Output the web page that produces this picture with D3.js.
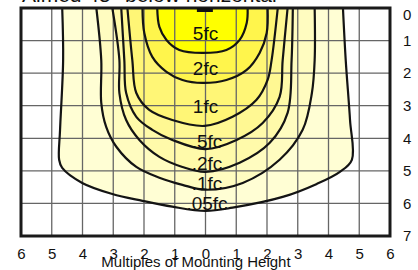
<!DOCTYPE html>
<html>
<head>
<meta charset="utf-8">
<script src="https://cdn.jsdelivr.net/npm/d3@7"></script>
<style>
  body { margin: 0; background: #fff; }
  svg { display: block; }
  text { font-family: "Liberation Sans", Arial, Helvetica, sans-serif; fill: #111; }
</style>
</head>
<body>
<div class="graph"></div>
<script>
// iso-footcandle contours, outermost first
// points are [multiples across, multiples down]
var levels = [".05fc", ".1fc", ".2fc", ".5fc", "1fc", "2fc", "5fc"];

var c05 = [[-4.66,0],[-4.63,1.6],[-4.73,3.74],[-4.76,4.66],[-4.66,4.91],[-4.01,5.37],[-3.03,5.71],
  [-2.05,5.92],[-1.08,6.1],[0,6.23],[0.88,6.13],[2.51,5.8],[3.62,5.4],[4.37,5.03],[4.76,4.66],
  [4.7,3.44],[4.56,1.6],[4.47,0]];
var c1 = [[-3.55,0],[-3.39,1.6],[-3.39,2.91],[-3.23,3.65],[-2.9,4.26],[-2.25,4.88],[-1.5,5.21],
  [-0.75,5.43],[0,5.58],[1.21,5.37],[2.41,4.66],[3.16,3.74],[3.46,2.61],[3.55,1.6],[3.55,0]];
var c2 = [[-3.03,0],[-2.8,1.6],[-2.8,2.61],[-2.58,3.44],[-2.15,4.05],[-1.5,4.57],[-0.75,4.88],
  [0,5.03],[1.11,4.75],[2.09,4.14],[2.67,3.22],[2.8,1.6],[2.84,0]];
var c5 = [[-2.74,0],[-2.64,1.6],[-2.58,2.61],[-2.25,3.34],[-1.73,3.74],[-1.08,4.05],[0,4.33],
  [1.01,4.05],[1.86,3.53],[2.41,2.73],[2.51,1.6],[2.67,0]];
var c10 = [[-2.54,0],[-2.38,1.6],[-2.25,2.61],[-1.83,3.13],[-1.08,3.44],[-0.03,3.62],[0.88,3.34],
  [1.66,2.82],[2.02,2.21],[2.15,1.6],[2.35,0]];
var c20 = [[-2.05,0],[-1.99,0.77],[-1.73,1.5],[-1.27,1.96],[-0.75,2.21],[-0.1,2.3],[0.68,2.21],
  [1.34,1.9],[1.76,1.38],[1.99,0.77],[2.02,0]];
var c50 = [[-1.57,0],[-1.5,0.58],[-1.27,0.98],[-0.85,1.29],[-0.1,1.38],[0.68,1.29],[1.11,0.98],
  [1.34,0.46],[1.37,0]];
var contours = [c05, c1, c2, c5, c10, c20, c50];

// where each label sits: [across, down]
var labelAt = [[0.05,6.2],[0.05,5.58],[0.05,4.97],[0.05,4.29],[0,3.22],[0,2.06],[0,0.98]];

var xTicks = [-6,-5,-4,-3,-2,-1,0,1,2,3,4,5,6];
var yTicks = [0,1,2,3,4,5,6,7];

var fills = ["#fffed4", "#fffcc0", "#fffaaa", "#fff893", "#fff676", "#fff54c", "#ffff00"];

var W = 418, H = 270;
var margin = {top: 8, right: 28, bottom: 34, left: 21};

var svg = d3.select(".graph").append("svg")
  .attr("width", W).attr("height", H);

var x = d3.scaleLinear().domain([-6, 6]).range([margin.left, W - margin.right]);
var y = d3.scaleLinear().domain([0, 7]).range([margin.top, H - margin.bottom]);

var line = d3.line()
  .x(function(d) { return x(d[0]); })
  .y(function(d) { return y(d[1]); })
  .curve(d3.curveCatmullRom.alpha(0.5));

// filled bands
svg.append("g").selectAll("path")
  .data(contours)
  .enter().append("path")
  .attr("d", function(d) { return line(d) + "Z"; })
  .attr("fill", function(d, i) { return fills[i]; })
  .attr("stroke", "none");

// grid
var grid = svg.append("g").attr("stroke", "#666").attr("stroke-width", 1.3);
grid.selectAll(".gx").data(xTicks).enter().append("line")
  .attr("x1", function(d) { return x(d); }).attr("x2", function(d) { return x(d); })
  .attr("y1", y(0)).attr("y2", y(7));
grid.selectAll(".gy").data(yTicks).enter().append("line")
  .attr("y1", function(d) { return y(d); }).attr("y2", function(d) { return y(d); })
  .attr("x1", x(-6)).attr("x2", x(6));

// contour lines
svg.append("g").selectAll("path")
  .data(contours)
  .enter().append("path")
  .attr("d", function(d) { return line(d); })
  .attr("fill", "none")
  .attr("stroke", "#141414")
  .attr("stroke-width", 2.2);

// frame
svg.append("rect")
  .attr("x", x(-6)).attr("y", y(0))
  .attr("width", x(6) - x(-6)).attr("height", y(7) - y(0))
  .attr("fill", "none").attr("stroke", "#1a1a1a").attr("stroke-width", 3);

// fixture
svg.append("rect")
  .attr("x", x(-0.28)).attr("y", y(0))
  .attr("width", x(0.24) - x(-0.28)).attr("height", 4)
  .attr("fill", "#111");

// contour labels
svg.append("g").selectAll("text")
  .data(levels)
  .enter().append("text")
  .attr("x", function(d, i) { return x(labelAt[i][0]); })
  .attr("y", function(d, i) { return y(labelAt[i][1]); })
  .attr("text-anchor", "middle")
  .attr("font-size", 19)
  .text(function(d) { return d; });

// bottom axis
var xAxis = d3.axisBottom(x).tickValues(xTicks).tickSize(0)
  .tickFormat(function(d) { return Math.abs(d); });
var gx = svg.append("g")
  .attr("transform", "translate(0," + (y(7) + 9) + ")")
  .call(xAxis);
gx.select(".domain").remove();
gx.selectAll("text").attr("font-size", 15).attr("fill", "#111");

// right axis
var yAxis = d3.axisRight(y).tickValues(yTicks).tickSize(0)
  .tickFormat(d3.format("d"));
var gy = svg.append("g")
  .attr("transform", "translate(" + (x(6) + 10) + ",0)")
  .call(yAxis);
gy.select(".domain").remove();
gy.selectAll("text").attr("font-size", 15).attr("fill", "#111")
  .filter(function(d) { return d === 0; }).attr("dy", "0.75em");

// titles
svg.append("text")
  .attr("x", 196).attr("y", 267)
  .attr("text-anchor", "middle")
  .attr("font-size", 15)
  .text("Multiples of Mounting Height");

svg.append("text")
  .attr("x", 22).attr("y", 2)
  .attr("font-size", 21)
  .text("Aimed 45° below horizontal");
</script>
</body>
</html>
